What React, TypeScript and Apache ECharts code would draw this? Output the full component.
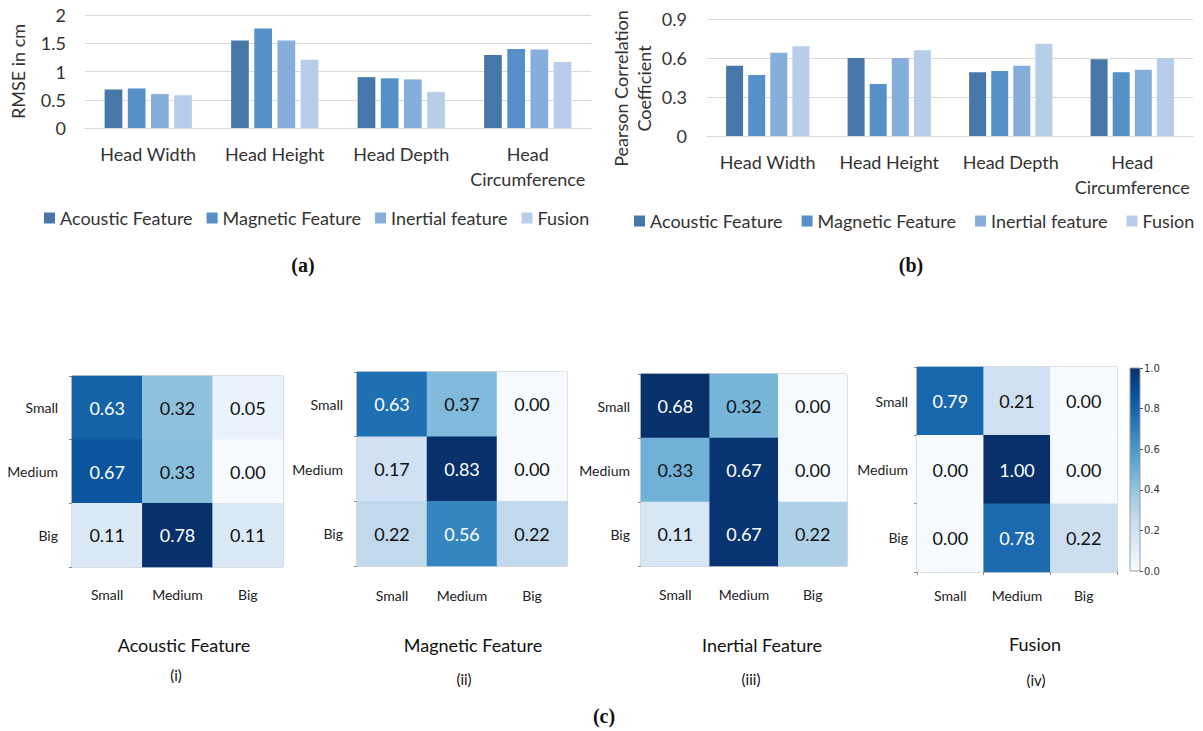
import React, { useEffect, useRef } from "react";
import * as echarts from "echarts";

// ---------- data ----------
const CATEGORIES = ["Head Width", "Head Height", "Head Depth", "Head\nCircumference"];
const FEATURES = ["Acoustic Feature", "Magnetic Feature", "Inertial feature", "Fusion"];
const BAR_COLORS = ["#4677a8", "#5591c8", "#86aedb", "#b8cde9"];

const RMSE_ACOUSTIC = [0.68, 1.55, 0.9, 1.29];
const RMSE_MAGNETIC = [0.7, 1.76, 0.88, 1.4];
const RMSE_INERTIAL = [0.6, 1.55, 0.86, 1.39];
const RMSE_FUSION = [0.58, 1.21, 0.64, 1.17];
const RMSE_TICKS = [0, 0.5, 1, 1.5, 2];

const PCC_ACOUSTIC = [0.54, 0.6, 0.49, 0.59];
const PCC_MAGNETIC = [0.47, 0.4, 0.5, 0.49];
const PCC_INERTIAL = [0.64, 0.6, 0.54, 0.51];
const PCC_FUSION = [0.69, 0.66, 0.71, 0.6];
const PCC_TICKS = [0, 0.3, 0.6, 0.9];

const CLASSES = ["Small", "Medium", "Big"];
const CM_ACOUSTIC = [
  [0.63, 0.32, 0.05],
  [0.67, 0.33, 0.0],
  [0.11, 0.78, 0.11],
];
const CM_MAGNETIC = [
  [0.63, 0.37, 0.0],
  [0.17, 0.83, 0.0],
  [0.22, 0.56, 0.22],
];
const CM_INERTIAL = [
  [0.68, 0.32, 0.0],
  [0.33, 0.67, 0.0],
  [0.11, 0.67, 0.22],
];
const CM_FUSION = [
  [0.79, 0.21, 0.0],
  [0.0, 1.0, 0.0],
  [0.0, 0.78, 0.22],
];
const CM_TITLES = ["Acoustic Feature", "Magnetic Feature", "Inertial Feature", "Fusion"];
const CM_SUBTITLES = ["(i)", "(ii)", "(iii)", "(iv)"];
const COLORBAR_TICKS = [0, 0.2, 0.4, 0.6, 0.8, 1.0];

const BLUES = ["#f7fbff", "#deebf7", "#c6dbef", "#9ecae1", "#6baed6", "#4292c6", "#2171b5", "#08519c", "#08306b"];

// ---------- layout (styles / positions) ----------
const SANS = "Lato";
const TEXT = "#333333";
const GRID_LINE = "#d9d9d9";

const CM_GRIDS = [
  { left: 72, top: 376, width: 211, height: 191, rowMargin: 14, colMargin: 20 },
  { left: 357, top: 372, width: 210, height: 194, rowMargin: 14, colMargin: 22 },
  { left: 641, top: 374, width: 206, height: 192, rowMargin: 11, colMargin: 21 },
  { left: 917, top: 367, width: 200, height: 205, rowMargin: 9, colMargin: 16 },
];
const CM_TITLE_POS = [
  { x: 184, y: 645, sx: 176, sy: 675 },
  { x: 473, y: 645, sx: 464, sy: 679 },
  { x: 762, y: 645, sx: 751, sy: 679 },
  { x: 1035, y: 644, sx: 1036, sy: 680 },
];

export default function App() {
  const ref = useRef<HTMLDivElement>(null);

  useEffect(() => {
    if (!ref.current) return;
    const chart = echarts.init(ref.current, undefined, { renderer: "svg" });

    const rmse = [RMSE_ACOUSTIC, RMSE_MAGNETIC, RMSE_INERTIAL, RMSE_FUSION];
    const pcc = [PCC_ACOUSTIC, PCC_MAGNETIC, PCC_INERTIAL, PCC_FUSION];
    const cms = [CM_ACOUSTIC, CM_MAGNETIC, CM_INERTIAL, CM_FUSION];

    const grids: any[] = [
      { left: 85, top: 15, width: 506, height: 113, outerBoundsMode: "none" },
      { left: 707, top: 19, width: 486, height: 117, outerBoundsMode: "none" },
      ...CM_GRIDS.map((g) => ({
        left: g.left,
        top: g.top,
        width: g.width,
        height: g.height,
        outerBoundsMode: "none",
        show: true,
        borderColor: "#b0b0b0",
        borderWidth: 1,
        backgroundColor: "transparent",
      })),
      {
        left: 1130,
        top: 368,
        width: 10,
        height: 203,
        outerBoundsMode: "none",
        show: true,
        borderColor: "#9a9a9a",
        borderWidth: 1,
        backgroundColor: new echarts.graphic.LinearGradient(
          0,
          0,
          0,
          1,
          BLUES.slice()
            .reverse()
            .map((c, i) => ({ offset: i / (BLUES.length - 1), color: c }))
        ),
      },
    ];

    const barXAxis = (gridIndex: number) => ({
      type: "category",
      gridIndex,
      data: CATEGORIES,
      axisTick: { show: false },
      axisLine: { show: true, lineStyle: { color: GRID_LINE } },
      axisLabel: {
        interval: 0,
        color: TEXT,
        fontFamily: SANS,
        fontSize: 18,
        margin: 13,
        lineHeight: 25,
        verticalAlign: "top",
      },
    });

    const xAxes: any[] = [
      barXAxis(0),
      barXAxis(1),
      ...CM_GRIDS.map((g, i) => ({
        type: "category",
        gridIndex: i + 2,
        data: CLASSES,
        axisLine: { show: false },
        axisTick: { show: i === 3, length: 3, lineStyle: { color: "#888" } },
        axisLabel: { interval: 0, color: "#222", fontFamily: SANS, fontSize: 14, margin: g.colMargin },
        splitLine: { show: false },
      })),
      {
        type: "category",
        gridIndex: 6,
        data: [""],
        show: false,
      },
    ];

    const yAxes: any[] = [
      {
        type: "value",
        gridIndex: 0,
        min: RMSE_TICKS[0],
        max: RMSE_TICKS[RMSE_TICKS.length - 1],
        interval: RMSE_TICKS[1] - RMSE_TICKS[0],
        name: "RMSE in cm",
        nameLocation: "middle",
        nameRotate: 90,
        nameGap: 58,
        nameTextStyle: { color: TEXT, fontFamily: SANS, fontSize: 18 },
        axisLabel: { color: TEXT, fontFamily: SANS, fontSize: 18, margin: 19 },
        splitLine: { lineStyle: { color: GRID_LINE } },
        axisLine: { show: false },
        axisTick: { show: false },
      },
      {
        type: "value",
        gridIndex: 1,
        min: PCC_TICKS[0],
        max: PCC_TICKS[PCC_TICKS.length - 1],
        interval: PCC_TICKS[1] - PCC_TICKS[0],
        name: "Pearson Correlation\nCoefficient",
        nameLocation: "middle",
        nameRotate: 90,
        nameGap: 52,
        nameTextStyle: {
          color: TEXT,
          fontFamily: SANS,
          fontSize: 18,
          lineHeight: 23,
          padding: [0, 22, 0, 0],
        },
        axisLabel: { color: TEXT, fontFamily: SANS, fontSize: 18, margin: 20 },
        splitLine: { lineStyle: { color: GRID_LINE } },
        axisLine: { show: false },
        axisTick: { show: false },
      },
      ...CM_GRIDS.map((g, i) => ({
        type: "category",
        gridIndex: i + 2,
        data: CLASSES,
        inverse: true,
        axisLine: { show: false },
        axisTick: { show: true, length: 3, lineStyle: { color: "#888" } },
        axisLabel: { interval: 0, color: "#222", fontFamily: SANS, fontSize: 14, margin: g.rowMargin },
        splitLine: { show: false },
      })),
      {
        type: "value",
        gridIndex: 6,
        position: "right",
        min: COLORBAR_TICKS[0],
        max: COLORBAR_TICKS[COLORBAR_TICKS.length - 1],
        interval: COLORBAR_TICKS[1] - COLORBAR_TICKS[0],
        axisLine: { show: false },
        axisTick: { show: true, length: 3, lineStyle: { color: "#555" } },
        axisLabel: {
          color: "#333",
          fontFamily: "DejaVu Sans",
          fontSize: 10,
          margin: 4,
          formatter: (v: number) => v.toFixed(1),
        },
        splitLine: { show: false },
      },
    ];

    const series: any[] = [];
    rmse.forEach((vals, i) =>
      series.push({
        type: "bar",
        name: FEATURES[i],
        xAxisIndex: 0,
        yAxisIndex: 0,
        data: vals,
        barWidth: 17.7,
        barGap: "31%",
        itemStyle: { color: BAR_COLORS[i] },
      })
    );
    pcc.forEach((vals, i) =>
      series.push({
        type: "bar",
        name: FEATURES[i],
        xAxisIndex: 1,
        yAxisIndex: 1,
        data: vals,
        barWidth: 17,
        barGap: "30%",
        itemStyle: { color: BAR_COLORS[i] },
      })
    );

    const visualMaps: any[] = [];
    cms.forEach((m, k) => {
      const max = Math.max(...m.flat());
      const data: any[] = [];
      m.forEach((row, r) =>
        row.forEach((v, c) =>
          data.push({
            value: [c, r, v],
            label: { color: v / max > 0.5 ? "#ffffff" : "#111111" },
          })
        )
      );
      visualMaps.push({
        type: "continuous",
        show: false,
        seriesIndex: series.length,
        min: 0,
        max,
        dimension: 2,
        inRange: { color: BLUES },
      });
      series.push({
        type: "heatmap",
        name: CM_TITLES[k],
        xAxisIndex: k + 2,
        yAxisIndex: k + 2,
        data,
        label: {
          show: true,
          fontFamily: SANS,
          fontSize: 18,
          formatter: (p: any) => p.value[2].toFixed(2),
        },
        emphasis: { disabled: true },
      });
    });

    const textEl = (text: string, x: number, y: number, size: number, serif = false) => ({
      type: "text",
      x,
      y,
      style: {
        text,
        fill: "#111",
        fontSize: size,
        fontFamily: serif ? "Liberation Serif" : SANS,
        fontWeight: serif ? "bold" : "normal",
        align: "center",
        verticalAlign: "middle",
      },
    });

    const graphics: any[] = [
      textEl("(a)", 303, 265, 20, true),
      textEl("(b)", 911, 265, 20, true),
      textEl("(c)", 604, 716, 20, true),
    ];
    CM_TITLE_POS.forEach((p, i) => {
      graphics.push(textEl(CM_TITLES[i], p.x, p.y, 18));
      graphics.push(textEl(CM_SUBTITLES[i], p.sx, p.sy, 15));
    });

    const legendBase = {
      data: FEATURES,
      itemWidth: 11,
      itemHeight: 11,
      padding: 0,
      icon: "rect",
      selectedMode: false,
      textStyle: { color: TEXT, fontFamily: SANS, fontSize: 18, padding: [0, 0, 0, 0] },
    };

    chart.setOption({
      animation: false,
      backgroundColor: "#ffffff",
      grid: grids,
      xAxis: xAxes,
      yAxis: yAxes,
      series,
      visualMap: visualMaps,
      legend: [
        { ...legendBase, itemGap: 14, left: 44, top: 209, width: 560 },
        { ...legendBase, itemGap: 19, left: 634, top: 212, width: 566 },
      ],
      graphic: graphics,
    });

    return () => chart.dispose();
  }, []);

  return (
    <div
      ref={ref}
      style={{ position: "absolute", left: 0, top: 0, width: 1203, height: 731 }}
    />
  );
}
